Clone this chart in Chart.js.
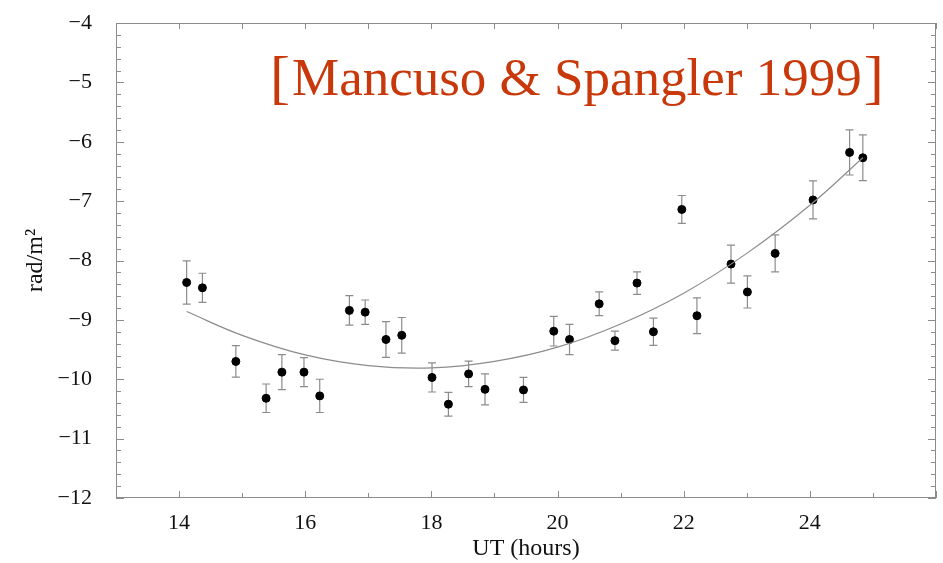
<!DOCTYPE html>
<html>
<head>
<meta charset="utf-8">
<script src="https://cdn.jsdelivr.net/npm/chart.js@4.4.0/dist/chart.umd.min.js"></script>
<style>
html, body { margin: 0; padding: 0; background: #fff; }
#wrap { width: 943px; height: 563px; }
</style>
</head>
<body>
<div id="wrap"><canvas id="rm-chart" width="943" height="563"></canvas></div>
<script>
// Medidas de RM (rad/m^2) contra UT, com barras de erro
const horasUT = [14.12, 14.37, 14.90, 15.38, 15.63, 15.98, 16.23, 16.70, 16.95, 17.28,
                 17.53, 18.01, 18.27, 18.59, 18.85, 19.46, 19.94, 20.19, 20.66, 20.91,
                 21.26, 21.52, 21.97, 22.21, 22.75, 23.01, 23.45, 24.05, 24.63, 24.84];
const valoresRM = [-8.37, -8.46, -9.70, -10.32, -9.88, -9.88, -10.28, -8.84, -8.87, -9.33,
                   -9.26, -9.97, -10.42, -9.91, -10.17, -10.18, -9.19, -9.33, -8.73, -9.35,
                   -8.38, -9.20, -7.14, -8.93, -8.06, -8.53, -7.88, -6.98, -6.18, -6.27];
const errosRM = [0.365, 0.245, 0.265, 0.24, 0.295, 0.245, 0.28, 0.25, 0.205, 0.30,
                 0.30, 0.245, 0.20, 0.215, 0.26, 0.21, 0.25, 0.255, 0.20, 0.16,
                 0.19, 0.23, 0.235, 0.30, 0.32, 0.27, 0.31, 0.32, 0.38, 0.385];

const ajusteX = [14.12, 15, 16, 17, 18, 19, 20, 21, 22, 23, 24, 24.84];
const ajusteY = [-8.86, -9.26, -9.59, -9.77, -9.81, -9.70, -9.46, -9.07, -8.55, -7.88, -7.07, -6.27];

const xMin = 13, xMax = 26, yMin = -12, yMax = -4;
const rotulosX = [14, 16, 18, 20, 22, 24];
const rotulo = "Mancuso & Spangler 1999";

const FONTE = "'Liberation Serif', 'Times New Roman', serif";
const CINZA = "#8c8c8c";

const inteiro = (v) => Math.abs(v - Math.round(v)) < 1e-6;

// moldura fechada com marcas para dentro
const molduraPlugin = {
    id: "moldura",
    beforeDatasetsDraw(chart) {
        const { ctx, chartArea: a, scales: { x, y } } = chart;
        ctx.save();
        ctx.strokeStyle = CINZA;
        ctx.lineWidth = 1;
        ctx.strokeRect(a.left + 0.5, a.top + 0.5, a.right - a.left - 1, a.bottom - a.top - 1);
        ctx.beginPath();
        y.ticks.forEach((t) => {
            const p = Math.round(y.getPixelForValue(t.value)) + 0.5,
                l = inteiro(t.value) ? 8 : 5;
            ctx.moveTo(a.left, p); ctx.lineTo(a.left + l, p);
            ctx.moveTo(a.right, p); ctx.lineTo(a.right - l, p);
        });
        x.ticks.forEach((t) => {
            const p = Math.round(x.getPixelForValue(t.value)) + 0.5,
                l = Math.round(t.value) % 2 === 0 ? 7 : 5;
            ctx.moveTo(p, a.bottom); ctx.lineTo(p, a.bottom - l);
            ctx.moveTo(p, a.top); ctx.lineTo(p, a.top + 6);
        });
        ctx.stroke();
        ctx.restore();
    },
};

// barras de erro desenhadas antes dos pontos
const errosPlugin = {
    id: "barrasErro",
    beforeDatasetDraw(chart, args) {
        if (args.index !== 1) return;
        const { ctx, scales: { x, y } } = chart;
        ctx.save();
        ctx.strokeStyle = CINZA;
        ctx.lineWidth = 1.2;
        ctx.beginPath();
        horasUT.forEach((h, i) => {
            const px = x.getPixelForValue(h),
                y1 = y.getPixelForValue(valoresRM[i] + errosRM[i]),
                y2 = y.getPixelForValue(valoresRM[i] - errosRM[i]);
            ctx.moveTo(px, y1); ctx.lineTo(px, y2);
            ctx.moveTo(px - 4, y1); ctx.lineTo(px + 4, y1);
            ctx.moveTo(px - 4, y2); ctx.lineTo(px + 4, y2);
        });
        ctx.stroke();
        ctx.restore();
    },
};

// referência em vermelho dentro da área do gráfico
const referenciaPlugin = {
    id: "referencia",
    afterDraw(chart) {
        const { ctx } = chart;
        ctx.save();
        ctx.fillStyle = "#c8380a";
        ctx.textBaseline = "alphabetic";
        ctx.font = "53px " + FONTE;
        const x0 = 292, base = 95;
        ctx.fillText(rotulo, x0, base);
        const w = ctx.measureText(rotulo).width;
        ctx.font = "60px " + FONTE;
        ctx.textAlign = "right";
        ctx.fillText("[", x0 - 2, base + 2);
        ctx.textAlign = "left";
        ctx.fillText("]", x0 + w + 2, base + 2);
        ctx.restore();
    },
};

const pontosCurva = ajusteX.map((v, i) => ({ x: v, y: ajusteY[i] }));
const pontosRM = horasUT.map((v, i) => ({ x: v, y: valoresRM[i] }));

new Chart(document.getElementById("rm-chart"), {
    type: "scatter",
    data: {
        datasets: [
            {
                type: "line",
                data: pontosCurva,
                borderColor: CINZA,
                borderWidth: 1.2,
                pointRadius: 0,
                tension: 0.4,
                fill: false,
            },
            {
                data: pontosRM,
                backgroundColor: "#000",
                borderColor: "#000",
                pointRadius: 4,
                pointHoverRadius: 4,
            },
        ],
    },
    options: {
        responsive: false,
        animation: false,
        events: [],
        layout: { padding: { top: 23, right: 7, left: 0, bottom: 0 } },
        plugins: { legend: { display: false }, tooltip: { enabled: false } },
        scales: {
            x: {
                type: "linear",
                min: xMin,
                max: xMax,
                grid: { display: false },
                border: { display: false },
                ticks: {
                    stepSize: 1,
                    autoSkip: false,
                    maxRotation: 0,
                    padding: 4,
                    color: "#111",
                    font: { family: FONTE, size: 22 },
                    callback: (v) => (rotulosX.includes(Math.round(v)) && inteiro(v) ? String(Math.round(v)) : ""),
                },
                title: {
                    display: true,
                    text: "UT (hours)",
                    color: "#111",
                    font: { family: FONTE, size: 24 },
                    padding: { top: 0, bottom: 0 },
                },
                afterFit: (s) => { s.height = 65; },
            },
            y: {
                min: yMin,
                max: yMax,
                grid: { display: false },
                border: { display: false },
                ticks: {
                    stepSize: 0.2,
                    autoSkip: false,
                    padding: 16,
                    color: "#111",
                    font: { family: FONTE, size: 22 },
                    callback: (v) => (inteiro(v) ? "\u2212" + Math.abs(Math.round(v)) : ""),
                },
                title: {
                    display: true,
                    text: "rad/m\u00b2",
                    color: "#111",
                    font: { family: FONTE, size: 24 },
                    padding: { top: 21, bottom: 0 },
                },
                afterFit: (s) => {
                    s.width = 116;
                    s.paddingTop = 0;
                    s.paddingBottom = 0;
                },
            },
        },
    },
    plugins: [molduraPlugin, errosPlugin, referenciaPlugin],
});
</script>
</body>
</html>
